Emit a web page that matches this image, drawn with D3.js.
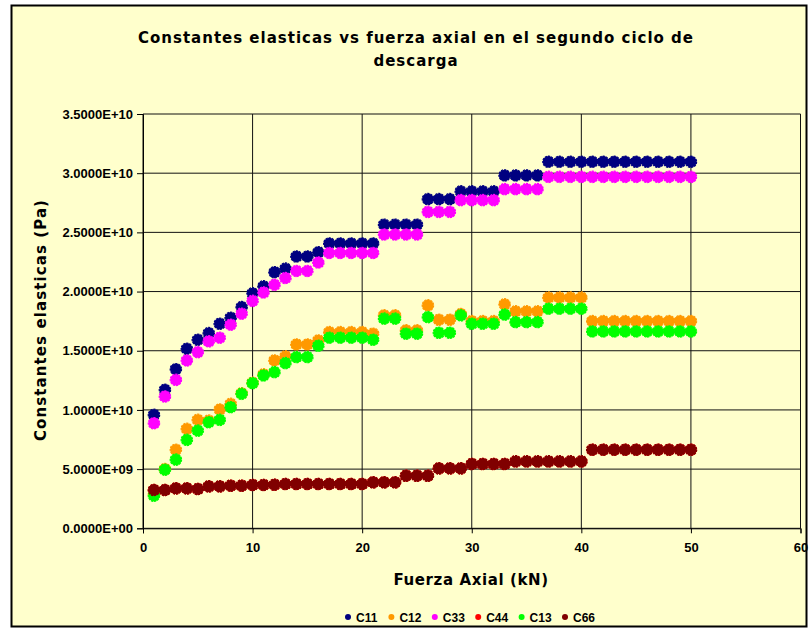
<!DOCTYPE html>
<html>
<head>
<meta charset="utf-8">
<script src="https://cdn.jsdelivr.net/npm/d3@7"></script>
<style>
    body { margin: 0; background: #ffffff; }
    svg { display: block; }
</style>
</head>
<body>
<div id="chart"></div>
<script>

// Fuerza axial (kN), one point per kN
var fuerza = [1, 2, 3, 4, 5, 6, 7, 8, 9, 10,
    11, 12, 13, 14, 15, 16, 17, 18, 19, 20,
    21, 22, 23, 24, 25, 26, 27, 28, 29, 30,
    31, 32, 33, 34, 35, 36, 37, 38, 39, 40,
    41, 42, 43, 44, 45, 46, 47, 48, 49, 50];

// Constantes elasticas (Pa)
var c11 = [9.58e9, 11.70e9, 13.44e9, 15.17e9, 15.93e9, 16.49e9, 17.28e9, 17.79e9, 18.69e9, 19.85e9,
    20.44e9, 21.63e9, 21.94e9, 22.96e9, 22.96e9, 23.32e9, 24.06e9, 24.06e9, 24.06e9, 24.06e9,
    24.06e9, 25.65e9, 25.65e9, 25.65e9, 25.65e9, 27.81e9, 27.81e9, 27.81e9, 28.46e9, 28.46e9,
    28.46e9, 28.46e9, 29.81e9, 29.81e9, 29.81e9, 29.81e9, 30.96e9, 30.96e9, 30.96e9, 30.96e9,
    30.96e9, 30.96e9, 30.96e9, 30.96e9, 30.96e9, 30.96e9, 30.96e9, 30.96e9, 30.96e9, 30.96e9];

var c12 = [2.90e9, 5.00e9, 6.64e9, 8.40e9, 9.16e9, 9.10e9, 10.03e9, 10.51e9, 11.40e9, 12.30e9,
    13.00e9, 14.18e9, 14.52e9, 15.53e9, 15.53e9, 15.87e9, 16.57e9, 16.57e9, 16.57e9, 16.57e9,
    16.44e9, 17.99e9, 17.99e9, 16.72e9, 16.72e9, 18.83e9, 17.62e9, 17.62e9, 18.10e9, 17.50e9,
    17.50e9, 17.50e9, 18.92e9, 18.33e9, 18.33e9, 18.33e9, 19.49e9, 19.49e9, 19.49e9, 19.49e9,
    17.50e9, 17.50e9, 17.50e9, 17.50e9, 17.50e9, 17.50e9, 17.50e9, 17.50e9, 17.50e9, 17.50e9];

var c33 = [8.87e9, 11.13e9, 12.54e9, 14.18e9, 14.88e9, 15.79e9, 16.10e9, 17.20e9, 18.13e9, 19.21e9,
    19.92e9, 20.57e9, 21.14e9, 21.74e9, 21.74e9, 22.45e9, 23.26e9, 23.26e9, 23.26e9, 23.26e9,
    23.26e9, 24.82e9, 24.82e9, 24.82e9, 24.82e9, 26.73e9, 26.73e9, 26.73e9, 27.72e9, 27.72e9,
    27.72e9, 27.72e9, 28.65e9, 28.65e9, 28.65e9, 28.65e9, 29.69e9, 29.69e9, 29.69e9, 29.69e9,
    29.69e9, 29.69e9, 29.69e9, 29.69e9, 29.69e9, 29.69e9, 29.69e9, 29.69e9, 29.69e9, 29.69e9];

var c44 = [3.23e9, 3.23e9, 3.37e9, 3.37e9, 3.32e9, 3.54e9, 3.54e9, 3.60e9, 3.60e9, 3.66e9,
    3.66e9, 3.68e9, 3.74e9, 3.74e9, 3.74e9, 3.74e9, 3.74e9, 3.74e9, 3.74e9, 3.74e9,
    3.88e9, 3.88e9, 3.88e9, 4.44e9, 4.44e9, 4.44e9, 5.06e9, 5.06e9, 5.06e9, 5.43e9,
    5.43e9, 5.43e9, 5.43e9, 5.65e9, 5.65e9, 5.65e9, 5.65e9, 5.65e9, 5.65e9, 5.65e9,
    6.64e9, 6.64e9, 6.64e9, 6.64e9, 6.64e9, 6.64e9, 6.64e9, 6.64e9, 6.64e9, 6.64e9];

var c13 = [2.75e9, 4.95e9, 5.80e9, 7.47e9, 8.25e9, 8.96e9, 9.16e9, 10.23e9, 11.36e9, 12.26e9,
    12.91e9, 13.19e9, 13.95e9, 14.46e9, 14.46e9, 15.42e9, 16.10e9, 16.10e9, 16.10e9, 16.10e9,
    15.93e9, 17.71e9, 17.71e9, 16.44e9, 16.44e9, 17.84e9, 16.52e9, 16.52e9, 17.99e9, 17.28e9,
    17.28e9, 17.28e9, 18.05e9, 17.42e9, 17.42e9, 17.42e9, 18.55e9, 18.55e9, 18.55e9, 18.55e9,
    16.63e9, 16.63e9, 16.63e9, 16.63e9, 16.63e9, 16.63e9, 16.63e9, 16.63e9, 16.63e9, 16.63e9];

var c66 = [3.23e9, 3.23e9, 3.37e9, 3.37e9, 3.32e9, 3.54e9, 3.54e9, 3.60e9, 3.60e9, 3.66e9,
    3.66e9, 3.68e9, 3.74e9, 3.74e9, 3.74e9, 3.74e9, 3.74e9, 3.74e9, 3.74e9, 3.74e9,
    3.88e9, 3.88e9, 3.88e9, 4.44e9, 4.44e9, 4.44e9, 5.06e9, 5.06e9, 5.06e9, 5.43e9,
    5.43e9, 5.43e9, 5.43e9, 5.65e9, 5.65e9, 5.65e9, 5.65e9, 5.65e9, 5.65e9, 5.65e9,
    6.64e9, 6.64e9, 6.64e9, 6.64e9, 6.64e9, 6.64e9, 6.64e9, 6.64e9, 6.64e9, 6.64e9];

// series in drawing order (later ones sit on top)
var seriesNames = ["C11", "C12", "C33", "C44", "C13", "C66"];
var seriesValues = [c11, c12, c33, c44, c13, c66];
var seriesColors = ["#000080", "#ff9900", "#ff00ff", "#ff0000", "#00ff00", "#800000"];

var xTicks = [0, 10, 20, 30, 40, 50, 60];
var yTicks = [0, 5e9, 10e9, 15e9, 20e9, 25e9, 30e9, 35e9];

var width = 810, height = 630;
var svg = d3.select("#chart").append("svg")
    .attr("width", width)
    .attr("height", height);

// small helper for the two text looks used in the chart
var titleStyle = function(sel, size, spacing) {
    sel.style("font-family", "'DejaVu Sans', sans-serif")
        .style("font-weight", "bold")
        .style("font-size", size + "px")
        .style("letter-spacing", spacing + "px")
        .attr("fill", "#000");
};
var labelStyle = function(sel, size) {
    sel.style("font-family", "'Liberation Sans', Arial, sans-serif")
        .style("font-weight", "bold")
        .style("font-size", size + "px")
        .attr("fill", "#000");
};

// chart area with its border
svg.append("rect")
    .attr("x", 11.5)
    .attr("y", 5.5)
    .attr("width", 795)
    .attr("height", 621)
    .attr("fill", "#ffffcc")
    .attr("stroke", "#000")
    .attr("stroke-width", 2);

var xScale = d3.scaleLinear().domain([0, 60]).range([143, 800.5]);
var yScale = d3.scaleLinear().domain([0, 35e9]).range([528.3, 114]);

//gridlines
svg.append("g")
    .selectAll("line")
    .data(yTicks)
    .enter()
    .append("line")
    .attr("x1", xScale(0))
    .attr("x2", xScale(60))
    .attr("y1", function(d) { return yScale(d); })
    .attr("y2", function(d) { return yScale(d); })
    .attr("stroke", "#111")
    .attr("stroke-width", 1);

svg.append("g")
    .selectAll("line")
    .data(xTicks)
    .enter()
    .append("line")
    .attr("x1", function(d) { return xScale(d); })
    .attr("x2", function(d) { return xScale(d); })
    .attr("y1", yScale(0))
    .attr("y2", yScale(35e9))
    .attr("stroke", "#111")
    .attr("stroke-width", 1);

// axes
var yFormat = function(d) {
    var s = d3.format(".4e")(d).toUpperCase();
    return s.replace(/E([+-])(\d)$/, "E$10$2");
};

var yAxis = svg.append("g")
    .attr("transform", "translate(" + xScale(0) + ",0)")
    .call(d3.axisLeft(yScale).tickValues(yTicks).tickSize(6).tickPadding(4).tickFormat(yFormat));

var xAxis = svg.append("g")
    .attr("transform", "translate(0," + yScale(0) + ")")
    .call(d3.axisBottom(xScale).tickValues(xTicks).tickSize(5).tickPadding(9).tickFormat(d3.format("d")));

[xAxis, yAxis].forEach(function(ax) {
    ax.select(".domain").attr("stroke", "#000");
    ax.selectAll(".tick line").attr("stroke", "#000");
    ax.selectAll("text").call(labelStyle, 13);
});

// data markers
var plot = svg.append("g");
for (let s = 0; s < seriesNames.length; ++s) {
    plot.append("g")
        .attr("id", "serie" + seriesNames[s])
        .selectAll("circle")
        .data(seriesValues[s])
        .enter()
        .append("circle")
        .attr("cx", function(d, i) { return xScale(fuerza[i]); })
        .attr("cy", function(d) { return yScale(d); })
        .attr("r", 5.7)
        .attr("fill", seriesColors[s])
        .attr("stroke", seriesColors[s])
        .attr("stroke-width", 1.2)
        .attr("stroke-dasharray", "2.2,1");
}

// title
svg.append("text")
    .attr("x", 416)
    .attr("y", 43)
    .attr("text-anchor", "middle")
    .call(titleStyle, 15, 1)
    .text("Constantes elasticas vs fuerza axial en el segundo ciclo de");

svg.append("text")
    .attr("x", 416)
    .attr("y", 66)
    .attr("text-anchor", "middle")
    .call(titleStyle, 15, 1)
    .text("descarga");

// axis titles
svg.append("text")
    .attr("x", 471)
    .attr("y", 585)
    .attr("text-anchor", "middle")
    .call(titleStyle, 15, 0.6)
    .text("Fuerza Axial (kN)");

svg.append("text")
    .attr("transform", "translate(46,320) rotate(-90)")
    .attr("text-anchor", "middle")
    .call(titleStyle, 15, 1.1)
    .text("Constantes elasticas (Pa)");

// legend
var legend = svg.append("g")
    .attr("transform", "translate(348,617)");

var legendItems = legend.selectAll("g")
    .data(seriesNames)
    .enter()
    .append("g")
    .attr("transform", function(d, i) { return "translate(" + (i * 43.4) + ",0)"; });

legendItems.append("circle")
    .attr("r", 3)
    .attr("fill", function(d, i) { return seriesColors[i]; });

legendItems.append("text")
    .attr("x", 8)
    .attr("y", 4.5)
    .call(labelStyle, 12)
    .text(function(d) { return d; });

</script>
</body>
</html>
